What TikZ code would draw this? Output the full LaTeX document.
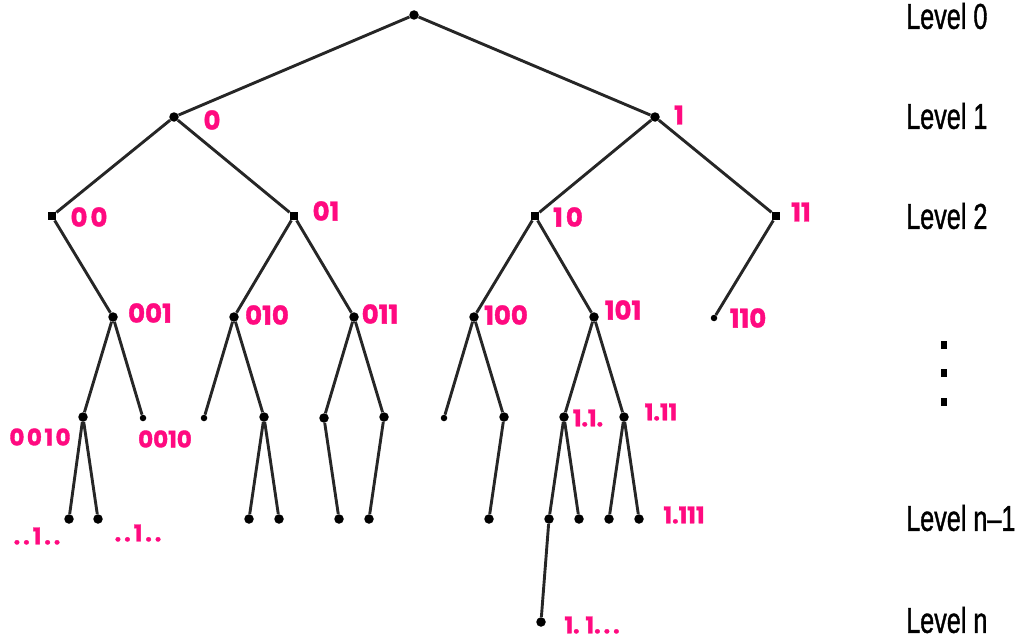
\documentclass[tikz,border=0pt]{standalone}
\usepackage{fontspec}
\newfontfamily\lvlfont[FakeStretch=0.7,FakeBold=1]{Liberation Sans}
\newfontfamily\pinkfont[FakeBold=1.5]{Poppins Bold}
\definecolor{pinkink}{HTML}{FF0A80}
\newcommand\gp{\hspace{3pt}}
\newcommand\tgp{\hspace{2.5pt}}
\begin{document}
\begin{tikzpicture}[x=1pt,y=-1pt,
  dot/.style={circle,fill=black,inner sep=0pt,minimum size=9.5pt},
  sdot/.style={circle,fill=black,inner sep=0pt,minimum size=6.5pt},
  sq/.style={rectangle,fill=black,inner sep=0pt,minimum size=8.5pt},
  edge/.style={line width=2.9pt,draw=black!85},
  lab/.style={text=pinkink,font=\pinkfont\fontsize{26}{26}\selectfont,inner sep=0pt},
  slab/.style={text=pinkink,font=\pinkfont\fontsize{23}{23}\selectfont,inner sep=0pt},
  lvl/.style={font=\lvlfont\fontsize{36}{36}\selectfont,anchor=west,inner sep=0pt},
  vdot/.style={rectangle,fill=black,inner sep=0pt,minimum width=5.5pt,minimum height=8.5pt}]
\useasboundingbox (0,0) rectangle (1023,642);
% nodes
\node[dot] (r) at (414,15) {};
\node[dot] (n0) at (174,117) {};
\node[dot] (n1) at (655,117) {};
\node[sq] (n00) at (52,216) {};
\node[sq] (n01) at (294,216) {};
\node[sq] (n10) at (535,216) {};
\node[sq] (n11) at (776,216) {};
\node[dot] (n001) at (113,317) {};
\node[dot] (n010) at (234,317) {};
\node[dot] (n011) at (354,317) {};
\node[dot] (n100) at (474,317) {};
\node[dot] (n101) at (594,317) {};
\node[sdot] (n110) at (714,318) {};
\node[dot] (a1) at (83,417) {};
\node[sdot] (a2) at (143,418) {};
\node[sdot] (b1) at (204,418) {};
\node[dot] (b2) at (264,417) {};
\node[dot] (c1) at (324,418) {};
\node[dot] (c2) at (384,417) {};
\node[sdot] (d1) at (444,418) {};
\node[dot] (d2) at (504,417) {};
\node[dot] (e1) at (564,417) {};
\node[dot] (e2) at (624,417) {};
\node[dot] (a11) at (69,519) {};
\node[dot] (a12) at (98,519) {};
\node[dot] (b21) at (249,519) {};
\node[dot] (b22) at (279,519) {};
\node[dot] (c11) at (339,519) {};
\node[dot] (c21) at (369,519) {};
\node[dot] (d21) at (489,519) {};
\node[dot] (e11) at (549,519) {};
\node[dot] (e12) at (579,519) {};
\node[dot] (e21) at (609,519) {};
\node[dot] (e22) at (639,519) {};
\node[dot] (f1) at (541,622) {};
% edges
\foreach \p/\c in {r/n0,r/n1,n0/n00,n0/n01,n1/n10,n1/n11,
  n00/n001,n01/n010,n01/n011,n10/n100,n10/n101,n11/n110,
  n001/a1,n001/a2,n010/b1,n010/b2,n011/c1,n011/c2,n100/d1,n100/d2,n101/e1,n101/e2,
  a1/a11,a1/a12,b2/b21,b2/b22,c1/c11,c2/c21,d2/d21,e1/e11,e1/e12,e2/e21,e2/e22,e11/f1}
  \draw[edge] (\p) -- (\c);
% pink labels
\node[lab] (l0) at (212,120) {0};
\node[lab] (l1) at (679,115) {1};
\node[lab] (l00) at (89,217) {0\gp0};
\node[lab] (l01) at (326,211) {01};
\node[lab] (l10) at (568,217) {1\gp0};
\node[lab] (l11) at (801,212) {11};
\node[lab] (l001) at (150,313) {001};
\node[lab] (l010) at (267,315) {010};
\node[lab] (l011) at (380,314) {011};
\node[lab] (l100) at (506,315) {100};
\node[lab] (l101) at (623,310) {101};
\node[lab] (l110) at (748,318) {110};
\node[slab] (la1) at (40,437) {0\tgp0\tgp1\tgp0};
\node[slab] (la2) at (165,439) {0010};
\node[slab] (la11) at (37,536) {.\gp.\gp1\gp.\gp.};
\node[slab] (la12) at (138,533) {.\gp.\gp1\gp.\gp.};
\node[slab] (le1) at (588,418) {1.1.};
\node[slab] (le2) at (661,412) {1.11};
\node[slab] (le22) at (684,515) {1.111};
\node[slab] (lf1) at (592,625) {1.\gp\gp1.\gp.\gp.};
% level labels
\node[lvl] (L0) at (906,16) {Level 0};
\node[lvl] (L1) at (906,116) {Level 1};
\node[lvl] (L2) at (906,216) {Level 2};
\node[lvl] (Ln1) at (906,518) {Level n\textendash1};
\node[lvl] (Ln) at (906,620) {Level n};
\node[vdot] (v1) at (944,345) {};
\node[vdot] (v2) at (944,373) {};
\node[vdot] (v3) at (944,402) {};
\end{tikzpicture}
\end{document}
